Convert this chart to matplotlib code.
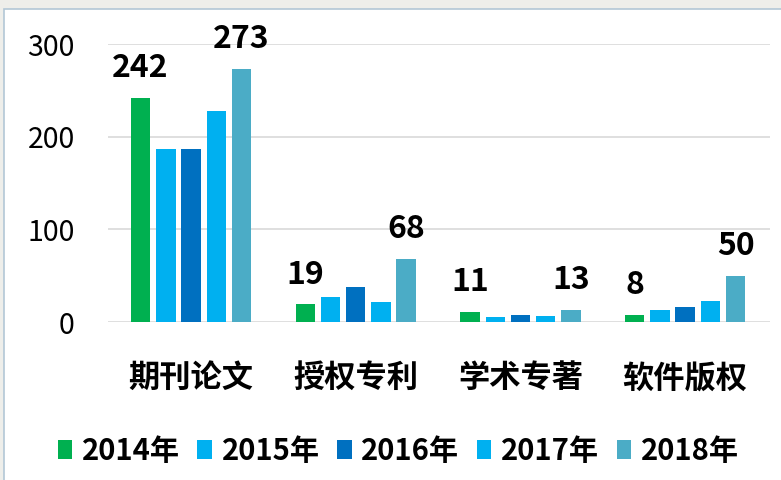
import matplotlib.pyplot as plt
import numpy as np
from matplotlib.patches import Rectangle

plt.rcParams['font.family'] = ['Noto Sans CJK SC', 'DejaVu Sans']

categories = ['期刊论文', '授权专利', '学术专著', '软件版权']
years = ['2014年', '2015年', '2016年', '2017年', '2018年']
v2014 = [242, 19, 11, 8]
v2015 = [187, 27, 5, 13]
v2016 = [187, 38, 8, 16]
v2017 = [228, 22, 6, 23]
v2018 = [273, 68, 13, 50]
yticks = [0, 100, 200, 300]

series = [v2014, v2015, v2016, v2017, v2018]
colors = ['#00B050', '#00B0F0', '#0070C0', '#00B0F0', '#4BACC6']
labelled = [0, 4]  # only first and last year get value labels

fig = plt.figure(figsize=(7.81, 4.8), dpi=100)
fig.patch.set_facecolor('#eeeeea')
fig.patches.append(Rectangle((4 / 781, -0.01), 1.0, 1 - 9 / 480 + 0.01,
                             transform=fig.transFigure, facecolor='white',
                             edgecolor='#b3c7d6', linewidth=1.2, zorder=-5))

ax = fig.add_axes([108 / 781, 1 - 322 / 480, (770 - 108) / 781, (322 - 44) / 480])
ax.set_facecolor('none')

x = np.arange(len(categories))
step, width = 0.153, 0.118
for i, (vals, c) in enumerate(zip(series, colors)):
    bars = ax.bar(x + (i - 2) * step, vals, width, color=c, label=years[i], zorder=3)
    if i in labelled:
        for b, v in zip(bars, vals):
            ax.annotate(str(v), (b.get_x() + b.get_width() / 2, v),
                        xytext=(0, 10), textcoords='offset points',
                        ha='center', va='bottom', fontsize=23,
                        fontweight='bold', annotation_clip=False)

ax.set_xlim(-0.504, 3.515)
ax.set_ylim(0, 300)
ax.set_yticks(yticks)
ax.set_yticklabels([str(t) for t in yticks], fontsize=20.5)
ax.set_xticks(x)
ax.set_xticklabels(categories, fontsize=22.5, fontweight='bold')
ax.tick_params(axis='y', length=0, pad=24)
ax.tick_params(axis='x', length=0, pad=29)
ax.grid(axis='y', color='#d9d9d9', linewidth=1.2, zorder=0)
for s in ax.spines.values():
    s.set_visible(False)

leg = fig.legend(loc='center', bbox_to_anchor=(0.51, 1 - 451 / 480), ncol=5,
                 frameon=False, handlelength=0.5, handleheight=0.62,
                 handletextpad=0.33, columnspacing=0.6,
                 prop={'size': 21, 'weight': 'bold'})

fig.savefig('out.png', dpi=100, facecolor=fig.get_facecolor())
